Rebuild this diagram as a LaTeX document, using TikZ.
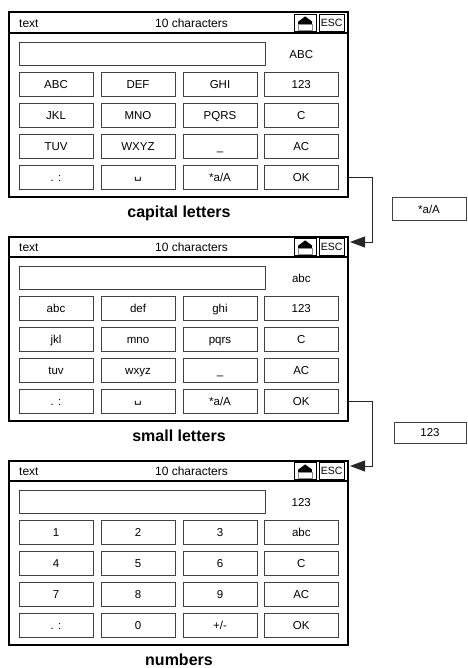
\documentclass[tikz,border=0pt]{standalone}
\usepackage{fontspec}
\setmainfont{Liberation Sans}
\newfontfamily\dejavu{DejaVu Sans}
\usetikzlibrary{arrows.meta}
\tikzset{
  kbframe/.style={draw=black,line width=2pt,inner sep=0pt,outer sep=0pt,minimum width=339pt,minimum height=184.5pt,anchor=north west},
  key/.style={draw=black!75,line width=0.9pt,minimum width=74pt,minimum height=23.5pt,inner sep=0pt,text height=8.2pt,text depth=0pt,font=\fontsize{11.5}{13}\selectfont},
  inbox/.style={draw=black!75,line width=0.9pt,minimum width=246pt,minimum height=23.5pt,inner sep=0pt},
  iconbox/.style={draw=black,line width=0.9pt,minimum height=17.4pt,inner sep=0pt},
  hdr/.style={font=\fontsize{12}{14}\selectfont,inner sep=0pt,text height=8.6pt,text depth=0pt},
  caption/.style={font=\bfseries\fontsize{16}{18}\selectfont,inner sep=0pt,anchor=base},
  side/.style={draw=black!75,line width=0.9pt,inner sep=0pt,text height=8.2pt,text depth=0pt,font=\fontsize{11.5}{13}\selectfont},
  conn/.style={draw=black!85,line width=0.9pt,-{Triangle[length=15pt,width=11pt]}}
}
\newcommand\kbframe[3]{%
  \node[kbframe] (fr#1) at (9,12.5) {};
  \draw[line width=2pt] (9,33.3) -- (348,33.3);
  \node[hdr,anchor=west] (ttl#1) at (19,23) {text};
  \node[hdr] (cnt#1) at (191.5,23) {10 characters};
  \node[iconbox,minimum width=21.7pt] (up#1) at (305.2,23) {};
  \fill (298,21.8) -- (305.2,16.4) -- (312.4,21.8) -- cycle;
  \fill (298,21.8) rectangle (312.4,24);
  \draw[black!45,line width=0.7pt] (298,24) rectangle (312.4,30.2);
  \node[iconbox,minimum width=24.7pt,text height=7.5pt,text depth=0pt,font=\fontsize{10.5}{12}\selectfont] (esc#1) at (331.7,23) {ESC};
  \node[inbox] (in#1) at (142,53.75) {};
  \node[hdr,font=\fontsize{11.5}{13}\selectfont,text height=8.2pt] (mode#1) at (301.3,54) {#2};
  \node[caption] (cap#1) at (179,217.3) {#3};
  \coordinate (tip#1) at (350,18);
}
\newcommand\kbrow[7]{%
  \node[key] (k#1-#2-1) at (56,#3) {#4};
  \node[key] (k#1-#2-2) at (138,#3) {#5};
  \node[key] (k#1-#2-3) at (220,#3) {#6};
  \node[key] (k#1-#2-4) at (301.3,#3) {#7};
}
\newcommand\spc{\raisebox{3pt}{\dejavu\fontsize{12}{13}\selectfont ␣}}
\begin{document}
\begin{tikzpicture}[x=1pt,y=-1pt]
\useasboundingbox (0,0) rectangle (467,668);
\begin{scope}
  \kbframe{1}{ABC}{capital letters}
  \kbrow{1}{1}{84.5}{ABC}{DEF}{GHI}{123}
  \kbrow{1}{2}{115.5}{JKL}{MNO}{PQRS}{C}
  \kbrow{1}{3}{146.5}{TUV}{WXYZ}{\_}{AC}
  \kbrow{1}{4}{177.5}{. :}{\spc}{*a/A}{OK}
\end{scope}
\begin{scope}[shift={(0,224)}]
  \kbframe{2}{abc}{small letters}
  \kbrow{2}{1}{84.5}{abc}{def}{ghi}{123}
  \kbrow{2}{2}{115.5}{jkl}{mno}{pqrs}{C}
  \kbrow{2}{3}{146.5}{tuv}{wxyz}{\_}{AC}
  \kbrow{2}{4}{177.5}{. :}{\spc}{*a/A}{OK}
\end{scope}
\begin{scope}[shift={(0,448)}]
  \kbframe{3}{123}{numbers}
  \kbrow{3}{1}{84.5}{1}{2}{3}{abc}
  \kbrow{3}{2}{115.5}{4}{5}{6}{C}
  \kbrow{3}{3}{146.5}{7}{8}{9}{AC}
  \kbrow{3}{4}{177.5}{. :}{0}{+/-}{OK}
\end{scope}
\node[side,minimum width=74pt,minimum height=23.5pt] (lab1) at (429,209) {*a/A};
\node[side,minimum width=72pt,minimum height=21pt] (lab2) at (430,432.7) {123};
\draw[conn] (fr1.east |- k1-4-4) -- ++(24,0) |- (tip2);
\draw[conn] (fr2.east |- k2-4-4) -- ++(24,0) |- (tip3);
\end{tikzpicture}
\end{document}
